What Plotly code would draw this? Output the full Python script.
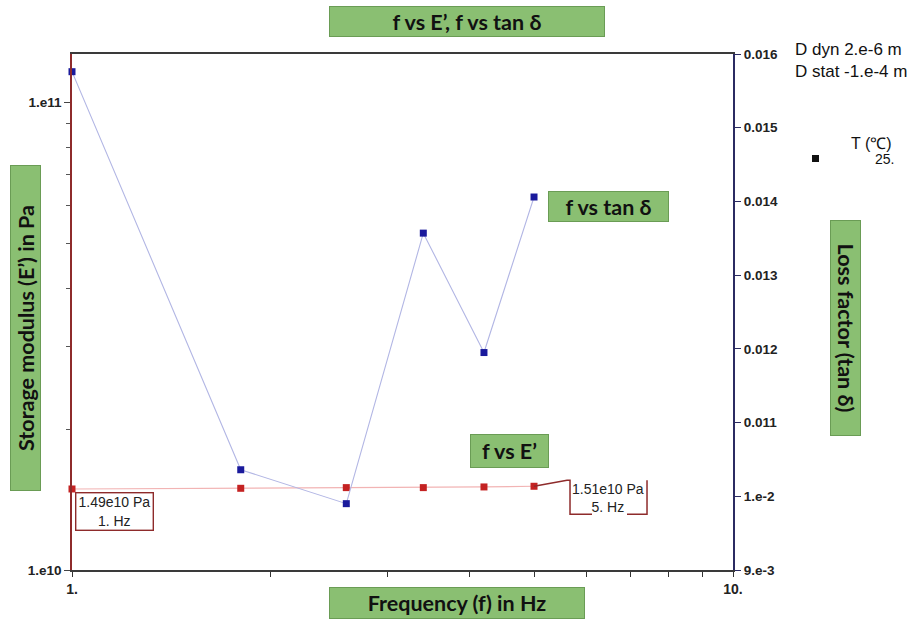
import math
import plotly.graph_objects as go

# ---------------- data ----------------
freq_hz = [1.0, 1.8, 2.6, 3.4, 4.2, 5.0]
storage_modulus_pa = [1.49e10, 1.495e10, 1.50e10, 1.50e10, 1.505e10, 1.51e10]
loss_factor = [0.01576, 0.01036, 0.00990, 0.01357, 0.01195, 0.01406]

x_tickvals = [1, 10]
x_ticktext = ["1.", "10."]
x_minor = [2, 3, 4, 5, 6, 7, 8, 9]
yl_tickvals = [1e10, 1e11]
yl_ticktext = ["1.e10", "1.e11"]
yl_minor = [2e10, 3e10, 4e10, 5e10, 6e10, 7e10, 8e10, 9e10]
yr_tickvals = [0.009, 0.010, 0.011, 0.012, 0.013, 0.014, 0.015, 0.016]
yr_ticktext = ["9.e-3", "1.e-2", "0.011", "0.012", "0.013", "0.014", "0.015", "0.016"]

# ---------------- geometry ----------------
W, H = 918, 619
ML, MR, MT, MB = 72, 185, 54, 49
PW, PH = W - ML - MR, H - MT - MB
YL_RANGE = [10.0, 11.103]

def px_x(x):
    return (x - ML) / PW

def px_y(y):
    return (H - MB - y) / PH

GREEN = "#8abf72"
GREEN_EDGE = "#6a9c55"
DARKRED = "#8e2b2b"
NAVY = "#2b2b62"
TXT = "#111111"
LABEL_FONT = "Lato, 'Open Sans', sans-serif"
ARIAL = "'Liberation Sans', Arial, sans-serif"

fig = go.Figure()

fig.add_trace(go.Scatter(
    x=freq_hz, y=storage_modulus_pa, mode="lines+markers",
    line=dict(color="#f2b4b4", width=1.2),
    marker=dict(symbol="square", size=7, color="#c42222"),
    cliponaxis=False, yaxis="y", name="E'"))

fig.add_trace(go.Scatter(
    x=freq_hz, y=loss_factor, mode="lines+markers",
    line=dict(color="#b2b6e4", width=1.1),
    marker=dict(symbol="square", size=7, color="#1a1a9c"),
    cliponaxis=False, yaxis="y2", name="tan δ"))

bold = lambda L: ["<b>%s</b>" % t for t in L]

fig.update_layout(
    width=W, height=H,
    margin=dict(l=ML, r=MR, t=MT, b=MB),
    paper_bgcolor="white", plot_bgcolor="white",
    showlegend=False,
    xaxis=dict(
        type="log", range=[0, 1],
        tickvals=x_tickvals, ticktext=bold(x_ticktext),
        ticks="outside", ticklen=5, tickcolor="#333",
        tickfont=dict(family=ARIAL, size=14, color="#222"),
        showline=True, linecolor="#3a3a3a", linewidth=2, mirror=True,
        showgrid=False, zeroline=False,
        minor=dict(tickvals=x_minor, ticks="outside", ticklen=5,
                   tickcolor="#333", showgrid=False),
    ),
    yaxis=dict(
        type="log", range=YL_RANGE,
        tickvals=yl_tickvals, ticktext=bold(yl_ticktext),
        ticks="outside", ticklen=6, tickcolor="#444",
        tickfont=dict(family=ARIAL, size=13.5, color="#222"),
        showline=True, linecolor=DARKRED, linewidth=1.6,
        showgrid=False, zeroline=False,
        minor=dict(tickvals=yl_minor, ticks="outside", ticklen=4,
                   tickcolor="#555", showgrid=False),
    ),
    yaxis2=dict(
        overlaying="y", side="right", range=[0.009, 0.016],
        tickvals=yr_tickvals, ticktext=bold(yr_ticktext),
        ticks="outside", ticklen=6, tickcolor=NAVY,
        tickfont=dict(family=ARIAL, size=13.5, color="#222"),
        showline=True, linecolor=NAVY, linewidth=2,
        showgrid=False, zeroline=False,
    ),
)

def green_box(text, cx, cy, w, h, size=21.5, angle=0):
    fig.add_annotation(
        text="<b>%s</b>" % text, xref="paper", yref="paper",
        x=px_x(cx), y=px_y(cy), xanchor="center", yanchor="middle",
        showarrow=False, textangle=angle, width=w, height=h,
        font=dict(family=LABEL_FONT, size=size, color=TXT),
        bgcolor=GREEN, bordercolor=GREEN_EDGE, borderwidth=1, borderpad=1)

green_box("f vs E’, f vs tan δ", 467, 22, 272, 27)
green_box("Storage modulus (E’) in Pa", 25, 328, 322, 27, angle=-90)
green_box("Loss factor (tan δ)", 846, 328, 212, 27, angle=90)
green_box("f vs tan δ", 608, 207, 117, 27)
green_box("f vs E’", 509, 451, 75, 30)
green_box("Frequency (f) in Hz", 457, 603, 252, 28)

# top-right info text
fig.add_annotation(text="D dyn 2.e-6 m<br>D stat -1.e-4 m", xref="paper", yref="paper",
                   x=px_x(793), y=px_y(38), xanchor="left", yanchor="top",
                   align="left", showarrow=False,
                   font=dict(family=ARIAL, size=17, color="#111"))
fig.add_annotation(text="T (℃)", xref="paper", yref="paper",
                   x=px_x(871), y=px_y(143), xanchor="center", yanchor="middle",
                   showarrow=False, font=dict(family=ARIAL, size=16, color="#111"))
fig.add_annotation(text="25.", xref="paper", yref="paper",
                   x=px_x(884), y=px_y(159), xanchor="center", yanchor="middle",
                   showarrow=False, font=dict(family=ARIAL, size=14, color="#111"))
fig.add_shape(type="rect", xref="paper", yref="paper",
              x0=px_x(812), x1=px_x(819), y0=px_y(162), y1=px_y(155),
              fillcolor="#111", line=dict(width=0))

# value labels on E' curve
y_first = math.log10(storage_modulus_pa[0])
fig.add_annotation(text="1.49e10 Pa<br>1. Hz", xref="x", yref="y",
                   x=math.log10(freq_hz[0]), y=y_first,
                   xanchor="left", yanchor="top", xshift=3, yshift=-3,
                   showarrow=False, align="center", width=74,
                   font=dict(family=ARIAL, size=14, color="#222"),
                   bgcolor="rgba(255,255,255,0.85)", bordercolor=DARKRED,
                   borderwidth=1.4, borderpad=1)

lx = math.log10(freq_hz[-1])
ly = math.log10(storage_modulus_pa[-1])
fig.add_annotation(text="1.51e10 Pa<br>5. Hz", xref="x", yref="y",
                   x=lx, y=ly, xanchor="center", yanchor="middle",
                   xshift=74, yshift=-12, showarrow=False, align="center",
                   font=dict(family=ARIAL, size=14, color="#222"))

# bracket callout (paper coords, derived from the last data point)
px0 = ML + lx * PW
py0 = MT + (YL_RANGE[1] - ly) / (YL_RANGE[1] - YL_RANGE[0]) * PH
def P(dx, dy):
    return "%f,%f" % (px_x(px0 + dx), px_y(py0 + dy))
path = ("M %s L %s L %s L %s L %s M %s L %s L %s" % (
    P(0, 0), P(33, -6), P(36, -6), P(36, 28), P(58, 28),
    P(113, -6), P(113, 28), P(93, 28)))
fig.add_shape(type="path", xref="paper", yref="paper", path=path,
              line=dict(color=DARKRED, width=1.5))

fig.write_html("out.html")
